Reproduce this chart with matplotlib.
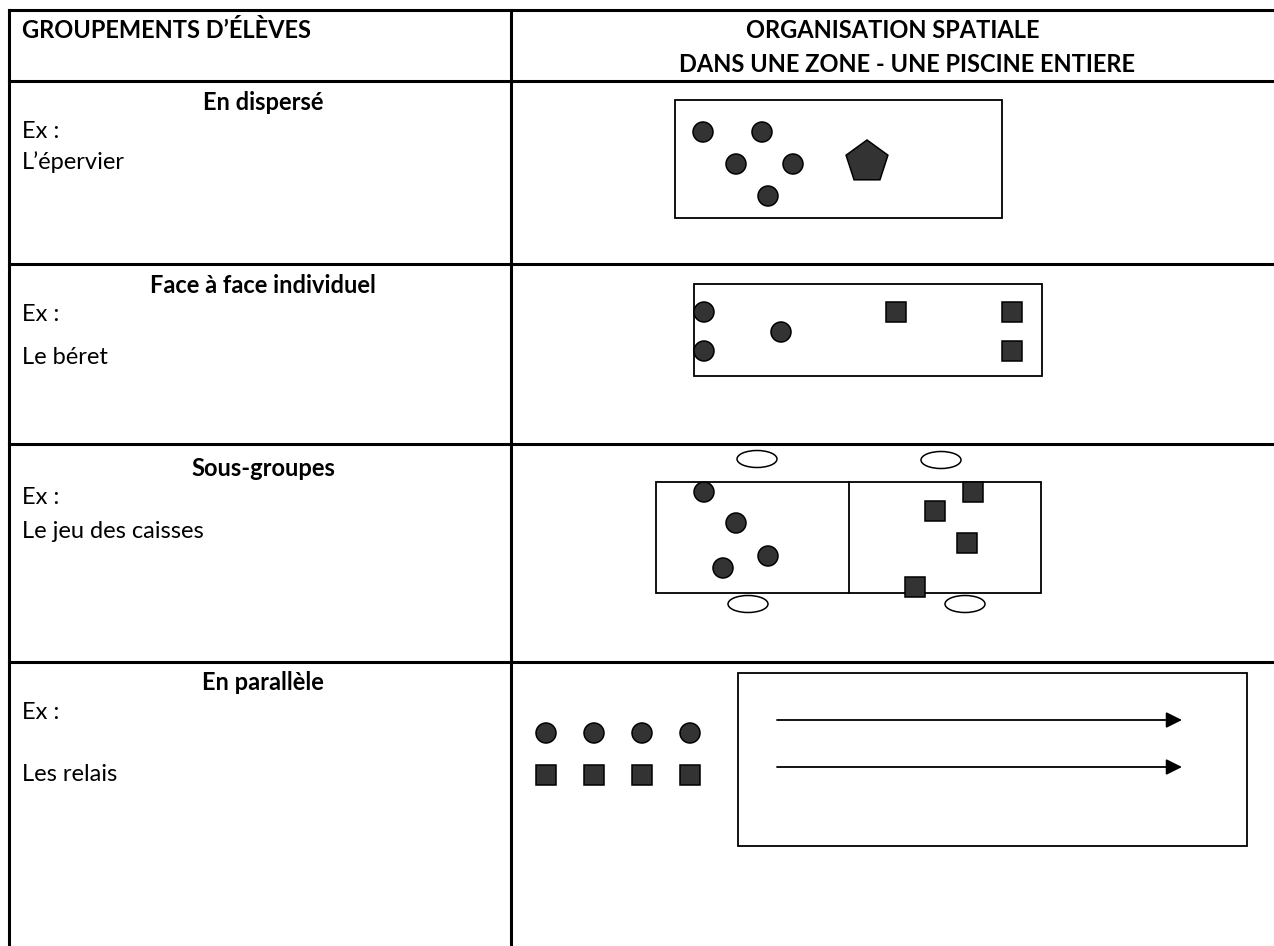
import matplotlib.pyplot as plt
from matplotlib.patches import Rectangle, Ellipse, Circle, RegularPolygon, FancyArrowPatch

W, H = 1274, 946
FONT = ['Lato', 'DejaVu Sans']
FILL = '#333333'
FS = 17

# table grid (pixels)
col_x = [9, 511]
row_y = [10, 81, 264, 444, 662]

header_left = "GROUPEMENTS D\u2019\u00c9L\u00c8VES"
header_right = ["ORGANISATION SPATIALE", "DANS UNE ZONE - UNE PISCINE ENTIERE"]

titles = ["En dispers\u00e9", "Face \u00e0 face individuel", "Sous-groupes", "En parall\u00e8le"]
title_y = [102, 285, 468, 682]
ex_y = [132, 314, 497, 712]
examples = ["L\u2019\u00e9pervier", "Le b\u00e9ret", "Le jeu des caisses", "Les relais"]
example_y = [162, 357, 531, 774]

# diagrams: boxes (x0, y0, x1, y1)
boxes = [(675, 100, 1002, 218), (694, 284, 1042, 376), (656, 482, 1041, 593), (738, 673, 1247, 846)]
split_x = 849

circles = [
    (703, 132), (762, 132), (736, 164), (793, 164), (768, 196),
    (704, 312), (704, 351), (781, 332),
    (704, 492), (736, 523), (768, 556), (723, 568),
    (546, 733), (594, 733), (642, 733), (690, 733),
]
squares = [
    (896, 312), (1012, 312), (1012, 351),
    (973, 492), (935, 511), (967, 543), (915, 587),
    (546, 775), (594, 775), (642, 775), (690, 775),
]
pentagon = (867, 162)
hoops = [(757, 459), (941, 460), (748, 604), (965, 604)]
arrows = [(777, 1182, 720), (777, 1182, 767)]

fig = plt.figure(figsize=(W / 100, H / 100), dpi=100)
ax = fig.add_axes([0, 0, 1, 1])
ax.set_xlim(0, W)
ax.set_ylim(H, 0)
ax.axis('off')

# table lines
for y in row_y:
    ax.plot([col_x[0], W], [y, y], color='black', lw=2.2, solid_capstyle='projecting')
for x in col_x:
    ax.plot([x, x], [row_y[0], H], color='black', lw=2.2, solid_capstyle='projecting')

ax.text(22, 31, header_left, fontsize=FS, fontweight='bold', family=FONT, va='center', ha='left')
ax.text(893, 31, header_right[0], fontsize=FS, fontweight='bold', family=FONT, va='center', ha='center')
ax.text(907, 65, header_right[1], fontsize=FS, fontweight='bold', family=FONT, va='center', ha='center')

for t, ty, ey, e, eyy in zip(titles, title_y, ex_y, examples, example_y):
    ax.text(263, ty, t, fontsize=FS, fontweight='bold', family=FONT, va='center', ha='center')
    ax.text(22, ey, "Ex :", fontsize=FS, family=FONT, va='center', ha='left')
    ax.text(22, eyy, e, fontsize=FS, family=FONT, va='center', ha='left')

for x0, y0, x1, y1 in boxes:
    ax.add_patch(Rectangle((x0, y0), x1 - x0, y1 - y0, fill=False, ec='black', lw=1.3))
ax.plot([split_x, split_x], [boxes[2][1], boxes[2][3]], color='black', lw=1.3)

for cx, cy in circles:
    ax.add_patch(Circle((cx, cy), 10, fc=FILL, ec='black', lw=1.1, zorder=3))
for cx, cy in squares:
    ax.add_patch(Rectangle((cx - 10, cy - 10), 20, 20, fc=FILL, ec='black', lw=1.1, zorder=3))
ax.add_patch(RegularPolygon(pentagon, 5, radius=22, orientation=3.14159, fc=FILL, ec='black', lw=1.1, zorder=3))
for hx, hy in hoops:
    ax.add_patch(Ellipse((hx, hy), 40, 17, fill=False, ec='black', lw=1.1, zorder=3))

for x0, x1, y in arrows:
    ax.add_patch(FancyArrowPatch((x0, y), (x1, y), arrowstyle='-|>', mutation_scale=24,
                                 color='black', lw=1.3, shrinkA=0, shrinkB=0))

fig.savefig('out.png', dpi=100)
